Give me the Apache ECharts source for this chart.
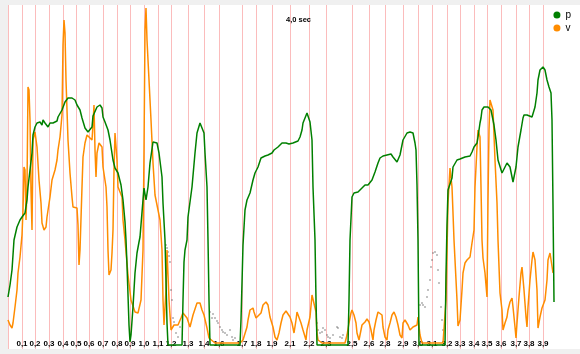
<!DOCTYPE html>
<html>
<head>
<meta charset="utf-8">
<script src="https://cdn.jsdelivr.net/npm/echarts/dist/echarts.min.js"></script>
<style>
  html, body { margin: 0; padding: 0; background: #f0f0f0; }
  #chart { width: 580px; height: 354px; }
</style>
</head>
<body>
<div id="chart"></div>
<script>
// frame index of each time mark and its label
const tickFrames = [0, 14, 27, 41, 55, 68, 81, 95, 109, 122, 136, 150, 163, 180, 196, 211, 234, 248, 264, 282, 301, 318, 344, 361, 377, 395, 410, 424, 439, 452, 466, 479, 493, 508, 521, 535];
const tickLabels = ['', '0,1', '0,2', '0,3', '0,4', '0,5', '0,6', '0,7', '0,8', '0,9', '1,0', '1,1', '1,2', '1,3', '1,4', '1,6', '1,7', '1,8', '1,9', '2,1', '2,2', '2,3', '2,5', '2,6', '2,8', '2,9', '3,0', '3,1', '3,2', '3,3', '3,4', '3,5', '3,6', '3,7', '3,8', '3,9'];
const frameCount = 573;

// p: [frame, value]
const pData = [
  [0,24],[2,30],[4,37.5],[5,45],[6,52.5],[9,59],[12,62.5],[14,64],[17,66],[19,72.5],[20,79],[22,87.5],[24,96],[25,105],[27,109],[29,111],[32,111.5],[34,110],[35,112.5],[37,111],[39,110],[40,109],[42,111],[44,110],[45,111],[49,112],[50,114],[54,117.5],[57,121.5],[60,123.5],[64,123.5],[67,122.5],[69,120],[72,117.5],[74,113.5],[77,108.5],[80,106.5],[84,109],[85,114.5],[89,119],[92,120],[94,118.5],[95,114],[97,111.5],[100,107.5],[102,102.5],[105,92.5],[107,88.5],[110,86],[113,80],[115,72.5],[117,61.5],[118,52.5],[119,40],[120,25],[121,10],[122,1.5],[123,5],[125,19],[127,36],[129,46],[131,51.5],[132,54],[135,72.5],[136,78.5],[138,72.5],[140,79],[142,91],[145,101.5],[147,102.5],[149,101],[151,96],[154,84],[155,71],[157,52.5],[158,32.5],[159,11],[160,0],
  [174,0],[175,22.5],[176,41.5],[177,47.5],[179,52.5],[180,64],[184,79],[187,96],[189,106],[192,111],[194,111],[196,106],[197,96],[199,79],[200,52.5],[201,22.5],[202,0],
  [232,0],[233,12.5],[234,31],[235,50],[237,67.5],[239,72.5],[242,76],[245,82.5],[247,86],[250,89],[253,93.5],[257,94.5],[260,95],[264,96],[266,97.5],[270,99],[274,101],[278,101],[281,100.5],[285,101],[290,102],[292,104],[294,107.5],[295,111],[297,113.5],[299,116],[300,116.5],[301,115],[302,111.5],[304,102.5],[305,79],[307,52.5],[308,22.5],[309,0],
  [340,0],[341,22.5],[342,52.5],[344,74],[346,76],[350,76.5],[354,78.5],[357,80],[360,80],[364,82.5],[367,86.5],[370,91],[372,93.5],[375,94.5],[379,95],[383,95.5],[385,94],[389,91.5],[392,95],[395,102.5],[399,106],[402,106.5],[405,106],[407,101],[408,97.5],[409,80],[410,52.5],[411,0],
  [437,0],[438,35],[439,60],[440,77.5],[442,77.5],[444,83.5],[445,89],[449,92.5],[452,93],[454,92],[457,94],[462,94.5],[464,96.5],[466,99],[469,101],[470,104],[472,111],[473,113.5],[474,117.5],[476,119],[478,118.5],[480,119],[483,117.5],[485,112.5],[486,110],[488,102.5],[490,92.5],[494,86],[497,89],[499,91],[502,89],[505,81.5],[506,81],[508,89],[510,99],[513,107.5],[515,113.5],[516,115],[519,115],[520,114],[524,114],[525,115],[527,119],[529,126],[530,132.5],[532,137.5],[535,139],[537,137.5],[539,132.5],[541,129],[543,126],[544,112.5],[545,70],[546,21.5]
];

// v: [frame, value]
const vData = [
  [0,12.5],[2,10],[4,8.5],[5,11],[7,19],[9,27.5],[10,36],[12,44],[14,55],[15,67.5],[16,89],[17,87.5],[18,62.5],[19,79],[20,129],[21,127.5],[22,112.5],[23,77.5],[24,57.5],[25,102.5],[27,106.5],[28,106],[29,99],[31,82.5],[33,71],[34,61],[36,57.5],[38,59],[39,64],[42,74],[44,82.5],[47,87.5],[49,92.5],[50,97.5],[52,104],[54,115],[55,150],[56,162.5],[57,156],[58,132.5],[59,117.5],[60,102.5],[62,86],[64,74],[65,69],[69,68.5],[70,60],[71,40],[72,47.5],[74,79],[75,94],[77,101],[79,105],[81,106],[84,102.5],[85,110],[86,120],[87,97.5],[88,84],[89,96],[91,101],[93,101.5],[94,99],[95,89],[98,79],[99,69],[100,47.5],[101,35],[103,37.5],[104,46],[105,57.5],[106,87.5],[107,106],[108,106.5],[109,92.5],[110,79],[112,79],[114,74],[115,62.5],[117,52.5],
  [120,35],[123,22.5],[127,16.5],[130,16],[133,22.5],[135,47.5],[136,97.5],[137,157.5],[138,168.5],[139,152.5],[141,132.5],[143,112.5],[145,91],[147,75],[149,75],[152,62.5],[154,47.5],[155,22.5],[156,10],[158,27.5],[159,47.5],[161,22.5],[163,7.5],[166,10],[170,10],[173,13.5],[175,16],[177,16.5],[179,13.5],[182,9],[185,15],[189,21],[192,21],[194,17.5],[196,15],[199,8.5],[201,3.5],[207,1],[227,1],[232,1],
  [235,2.5],[239,9],[240,12.5],[242,17.5],[245,18.5],[246,16.5],[248,13.5],[250,12.5],[253,16],[255,20],[258,21.5],[260,20],[262,14],[265,9],[267,4],[269,2.5],[271,6],[273,11],[275,15],[278,17],[280,16.5],[282,14],[284,11],[286,6],[288,12.5],[289,16.5],[291,16],[293,11],[295,7.5],[296,6.5],[298,2.5],[299,7.5],[302,14],[304,25],[306,24],[308,16.5],[309,6],[310,2.5],[314,1],[337,1],[339,5],
  [341,11],[343,16],[344,17.5],[346,15],[348,11],[349,6],[351,2.5],[353,7.5],[354,10],[357,11.5],[359,13],[361,11.5],[363,7.5],[365,2.5],[366,7.5],[368,12.5],[370,16.5],[372,17.5],[374,15],[375,9],[377,4],[379,2.5],[380,7.5],[382,11],[384,15],[386,16.5],[388,14],[390,10],[392,5],[394,3.5],[395,11],[397,12.5],[399,11.5],[400,10],[402,7.5],[404,6.5],[405,9],[407,9],[409,10],[410,14],[412,5],[414,1],[435,1],
  [438,22.5],[440,71],[442,88.5],[443,87.5],[444,79],[445,66],[446,52.5],[449,22.5],[450,9.5],[452,12.5],[454,27.5],[455,36],[457,41],[459,42.5],[462,44],[464,51],[466,57.5],[467,79],[469,99],[470,107.5],[472,104],[473,79],[474,52.5],[475,43.5],[477,36],[479,24],[480,72.5],[481,107.5],[482,122.5],[484,123.5],[485,117.5],[487,92.5],[489,71],[490,52.5],[492,26],[494,17.5],[495,7.5],[497,11],[499,14],[500,17.5],[502,21.5],[504,23.5],[505,19],[507,9],[508,3.5],[509,11],[511,24],[513,36],[514,39],[516,27.5],[518,14],[519,9],[520,19],[522,32.5],[524,42.5],[525,46.5],[527,42.5],[529,27.5],[530,8.5],[532,14],[534,18.5],[535,18.5],[537,22.5],[539,32.5],[540,42.5],[542,46],[544,45],[545,36]
];

// unvoiced samples shown as grey dots
const dotData = [
  [158,50],[159,48.5],[160,46.5],[161,44.5],[162,41.5],[163,27.5],[164,22.5],[165,13.5],[166,11.5],[168,6],[170,4],[172,9],
  [202,16.5],[204,13.5],[205,15.5],[207,13.5],[209,12],[210,11],[212,9],[214,7.5],[215,6.5],[217,6],[219,5],[222,7.5],[224,4],[225,2.5],[227,3.5],
  [309,11],[310,7.5],[312,6],[314,6.5],[315,8.5],[317,7.5],[319,5],[320,4],[322,3.5],[325,5],[329,9],[330,8.5],[332,4],[334,3.5],[335,5],
  [412,20],[414,21],[415,20],[417,19],[419,24],[420,27.5],[422,32.5],[423,39],[424,42.5],[425,46],[427,46.5],[429,45],[430,37.5],[431,31],[433,19],[434,12.5],[435,7.5]
];

const labelAt = {};
tickFrames.forEach((f, i) => { labelAt[f] = tickLabels[i]; });
const frames = Array.from({ length: frameCount }, (_, i) => (i in labelAt ? labelAt[i] : ''));
const isTick = (idx) => idx in labelAt;

const chart = echarts.init(document.getElementById('chart'));
chart.setOption({
  animation: false,
  title: {
    text: '4,0 sec',
    left: 281, top: 11,
    textStyle: { fontSize: 7.5, fontWeight: 'bold', color: '#000', fontFamily: 'Liberation Sans, Arial' }
  },
  legend: {
    data: ['p', 'v'],
    orient: 'vertical',
    right: 4, top: 5,
    icon: 'circle',
    itemWidth: 7, itemHeight: 7, itemGap: 3,
    textStyle: { fontSize: 10, color: '#000', fontFamily: 'Liberation Sans, Arial' }
  },
  grid: { left: 8, right: 0, top: 5, bottom: 5, show: true, backgroundColor: '#fff', borderWidth: 0 },
  xAxis: {
    type: 'category',
    data: frames,
    boundaryGap: false,
    axisLine: { show: false },
    axisTick: { show: false },
    axisLabel: { inside: true, interval: isTick, margin: 1, fontSize: 8, fontWeight: 'bold', color: '#000', fontFamily: 'Liberation Sans, Arial' },
    splitLine: { show: true, interval: isTick, lineStyle: { color: '#fbbcbc', width: 1 } }
  },
  yAxis: { type: 'value', min: -2, max: 170, show: false },
  series: [
    {
      name: 'v', type: 'line', data: vData, showSymbol: false,
      lineStyle: { color: '#ff8c00', width: 1.5 }, itemStyle: { color: '#ff8c00' }
    },
    {
      name: 'dots', type: 'scatter', data: dotData, symbolSize: 1.6,
      itemStyle: { color: '#555' }
    },
    {
      name: 'p', type: 'line', data: pData, showSymbol: false,
      lineStyle: { color: '#008000', width: 1.5 }, itemStyle: { color: '#008000' }
    }
  ]
});
</script>
</body>
</html>
